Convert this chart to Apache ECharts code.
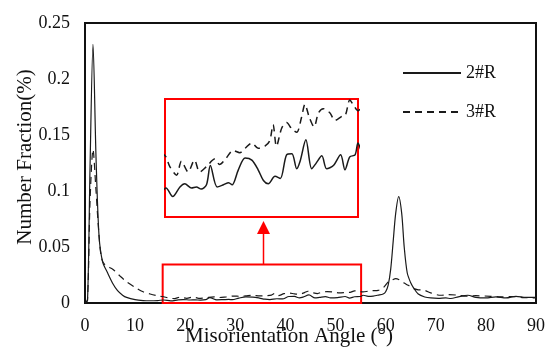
<!DOCTYPE html>
<html>
<head>
<meta charset="utf-8">
<script src="https://cdn.jsdelivr.net/npm/echarts@6/dist/echarts.min.js"></script>
<style>
  html, body { margin: 0; padding: 0; background: #fff; }
  #chart { width: 548px; height: 349px; }
</style>
</head>
<body>
<div id="chart"></div>
<script>
// misorientation angle (deg) and number fraction
const angles2R = [0, 0.5, 1.0, 1.6, 2.2, 2.8, 3.5, 4.5, 5.6, 6.5, 7.5, 8.3, 10, 11.6, 13, 14.5,
  15.7, 17.1, 18.6, 19.6, 21.0, 22.0, 23.0, 24.1, 24.9, 26.3, 27.6, 28.7, 29.4, 30.7, 32.1, 33.5,
  34.8, 35.9, 36.9, 38.3, 39.4, 40.7, 41.8, 42.8, 43.5, 44.7, 45.9, 46.8, 48.0, 49.0, 50.4, 51.9,
  52.8, 53.8, 54.9, 55.5, 56.5, 57.5, 58.5, 59.5, 60.0, 60.5, 61.0, 61.5, 62.0, 62.6, 63.2, 63.7,
  64.3, 65.0, 65.5, 66.5, 67.8, 69, 70.5, 72, 73, 74.5, 76.4, 78, 80, 82, 84, 86, 88, 90];
const values2R = [0, 0.002, 0.12, 0.231, 0.13, 0.06, 0.037, 0.027, 0.017, 0.011, 0.007, 0.005, 0.003, 0.0022, 0.002, 0.0022,
  0.0027, 0.0019, 0.0028, 0.0031, 0.0027, 0.0028, 0.0026, 0.003, 0.0048, 0.0028, 0.003, 0.0032, 0.003, 0.0044, 0.0055, 0.0053,
  0.0044, 0.0034, 0.0031, 0.0038, 0.0036, 0.0058, 0.0059, 0.0045, 0.0052, 0.0072, 0.0045, 0.005, 0.0057, 0.0045, 0.0048, 0.0058,
  0.0044, 0.0056, 0.0058, 0.0069, 0.006, 0.0062, 0.007, 0.008, 0.01, 0.016, 0.03, 0.055, 0.08, 0.095, 0.08, 0.05,
  0.027, 0.018, 0.014, 0.008, 0.0054, 0.0045, 0.0042, 0.0045, 0.004, 0.0055, 0.0069, 0.005, 0.0045, 0.0055, 0.0045, 0.006, 0.005, 0.005];

const angles3R = [0, 0.5, 1.0, 1.6, 2.2, 2.8, 3.3, 4.0, 5.6, 7.0, 8.3, 10, 11.6, 13, 14.9,
  15.7, 16.5, 17.9, 18.9, 20.3, 21.6, 22.7, 24.1, 25.8, 26.8, 28.2, 29.6, 31.0, 32.1, 33.5, 34.8,
  36.2, 37.2, 37.9, 38.6, 39.7, 40.7, 41.8, 42.8, 43.8, 44.5, 45.4, 46.4, 47.3, 48.3, 49.7, 50.7,
  52.2, 52.9, 53.8, 54.6, 55.5, 56.5, 57.5, 58.5, 59.5, 60.5, 61.3, 62.0, 62.8, 63.6, 64.5, 65.5,
  66.5, 67.8, 69, 71, 72.5, 74.4, 76, 78, 81, 83, 85, 87.6, 90];
const values3R = [0, 0.003, 0.09, 0.137, 0.1, 0.06, 0.04, 0.034, 0.03, 0.024, 0.019, 0.014, 0.01, 0.008, 0.006,
  0.0056, 0.0047, 0.0039, 0.0052, 0.0042, 0.0053, 0.0042, 0.0047, 0.0054, 0.0049, 0.0055, 0.0062, 0.006, 0.0064, 0.0069, 0.0064,
  0.0066, 0.0071, 0.0086, 0.0066, 0.0083, 0.0088, 0.0082, 0.0079, 0.0093, 0.0105, 0.0093, 0.0084, 0.0097, 0.0101, 0.0097, 0.009,
  0.0094, 0.0095, 0.0109, 0.0104, 0.0099, 0.0105, 0.011, 0.0113, 0.0135, 0.0188, 0.0205, 0.0218, 0.0205, 0.018, 0.0158, 0.013,
  0.0118, 0.0113, 0.009, 0.0069, 0.0075, 0.007, 0.0062, 0.0065, 0.006, 0.0055, 0.0058, 0.0048, 0.0045];

const yTicks = [0, 0.05, 0.1, 0.15, 0.2, 0.25];

const pairs = (xs, ys) => xs.map((x, i) => [x, ys[i]]);
const data2R = pairs(angles2R, values2R);
const data3R = pairs(angles3R, values3R);

const FONT = 'Liberation Serif';
const lineColor = '#1a1a1a';
const red = '#ff0000';

const chart = echarts.init(document.getElementById('chart'));

const option = {
  animation: false,
  legend: {
    data: ['2#R', '3#R'],
    orient: 'vertical',
    left: 402,
    top: 64,
    padding: 0,
    itemWidth: 58,
    itemHeight: 20,
    itemGap: 21,
    itemStyle: { color: 'rgba(0,0,0,0)', borderWidth: 0 },
    textStyle: { fontFamily: FONT, fontSize: 18, color: '#111' },
  },
  grid: [
    {
      left: 85, top: 23, width: 453, height: 280,
      show: true, borderColor: '#111', borderWidth: 2,
    },
    {
      left: 165, top: 99, width: 193, height: 118,
      show: true, borderColor: red, borderWidth: 2, backgroundColor: '#fff',
    },
  ],
  xAxis: [
    {
      type: 'value',
      min: 0, max: 90, interval: 10,
      gridIndex: 0,
      axisLine: { lineStyle: { color: '#111', width: 2 } },
      axisTick: { show: false },
      splitLine: { show: false },
      axisLabel: { fontFamily: FONT, fontSize: 18, color: '#111', margin: 14 },
    },
    {
      type: 'value',
      min: 15.5, max: 55.5,
      gridIndex: 1,
      show: false,
    },
  ],
  yAxis: [
    {
      type: 'value',
      min: yTicks[0], max: yTicks[yTicks.length - 1], interval: 0.05,
      gridIndex: 0,
      axisLine: { show: true, lineStyle: { color: '#111', width: 2 } },
      axisTick: { show: false },
      splitLine: { show: false },
      axisLabel: { fontFamily: FONT, fontSize: 18, color: '#111', margin: 15 },
    },
    {
      type: 'value',
      min: 0, max: 0.011,
      gridIndex: 1,
      show: false,
    },
  ],
  series: [
    {
      name: '2#R', type: 'line', xAxisIndex: 0, yAxisIndex: 0,
      data: data2R, symbol: 'none', smooth: 0.3,
      itemStyle: { color: lineColor },
      lineStyle: { color: lineColor, width: 1.2 },
      markArea: {
        silent: true,
        itemStyle: { color: 'rgba(0,0,0,0)', borderColor: red, borderWidth: 2 },
        data: [[{ coord: [15.5, 0] }, { coord: [55.1, 0.0344] }]],
      },
    },
    {
      name: '3#R', type: 'line', xAxisIndex: 0, yAxisIndex: 0,
      data: data3R, symbol: 'none', smooth: 0.3,
      itemStyle: { color: lineColor },
      lineStyle: { color: lineColor, width: 1.2, type: [7, 5] },
    },
    {
      name: '2#R', type: 'line', xAxisIndex: 1, yAxisIndex: 1,
      data: data2R, symbol: 'none', smooth: 0.3, clip: true,
      itemStyle: { color: lineColor },
      lineStyle: { color: lineColor, width: 1.5 },
    },
    {
      name: '3#R', type: 'line', xAxisIndex: 1, yAxisIndex: 1,
      data: data3R, symbol: 'none', smooth: 0.3, clip: true,
      itemStyle: { color: lineColor },
      lineStyle: { color: lineColor, width: 1.5, type: [7, 5] },
    },
  ],
  graphic: [
    // arrow from the small box up to the inset
    { type: 'line', shape: { x1: 263.5, y1: 264, x2: 263.5, y2: 232 }, style: { stroke: red, lineWidth: 1.5 } },
    { type: 'polygon', shape: { points: [[263.5, 221], [257, 234], [270, 234]] }, style: { fill: red } },
    {
      type: 'text', x: 289, y: 326,
      style: { text: 'Misorientation Angle (°)', font: '21px "Liberation Serif"', fill: '#111', align: 'center', verticalAlign: 'top' },
    },
    {
      type: 'text', x: 25, y: 157, rotation: Math.PI / 2,
      style: { text: 'Number Fraction(%)', font: '21px "Liberation Serif"', fill: '#111', align: 'center', verticalAlign: 'middle' },
    },
  ],
};

chart.setOption(option);
</script>
</body>
</html>
